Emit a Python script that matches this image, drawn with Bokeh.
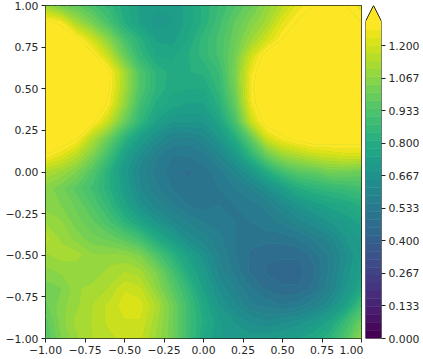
from bokeh.plotting import figure
from bokeh.layouts import row
from bokeh.embed import file_html
from bokeh.resources import INLINE
from bokeh.models import FixedTicker, LinearAxis
from bokeh.palettes import Viridis256, linear_palette
import numpy as np

x_values = [-1.0,-0.9,-0.8,-0.7,-0.6,-0.5,-0.4,-0.3,-0.2,-0.1,0.0,0.1,0.2,0.3,0.4,0.5,0.6,0.7,0.8,0.9,1.0]
y_values = [1.0,0.9,0.8,0.7,0.6,0.5,0.4,0.3,0.2,0.1,0.0,-0.1,-0.2,-0.3,-0.4,-0.5,-0.6,-0.7,-0.8,-0.9,-1.0]
z_rows = [
[1.10,1.02,0.98,0.92,0.86,0.79,0.74,0.72,0.72,0.76,0.82,0.88,0.94,1.00,1.08,1.16,1.25,1.30,1.32,1.30,1.25],
[1.32,1.28,1.12,1.02,0.92,0.81,0.74,0.70,0.71,0.76,0.82,0.90,0.98,1.05,1.12,1.24,1.31,1.37,1.38,1.36,1.30],
[1.40,1.38,1.32,1.20,1.06,0.92,0.82,0.74,0.73,0.78,0.86,0.92,1.00,1.10,1.20,1.30,1.38,1.42,1.42,1.40,1.36],
[1.40,1.40,1.38,1.32,1.18,1.00,0.86,0.78,0.77,0.81,0.86,0.92,1.02,1.20,1.34,1.40,1.42,1.42,1.42,1.42,1.40],
[1.42,1.42,1.42,1.40,1.32,1.12,0.94,0.84,0.80,0.81,0.82,0.88,1.04,1.26,1.38,1.42,1.42,1.42,1.42,1.42,1.42],
[1.42,1.42,1.42,1.40,1.31,1.12,0.94,0.84,0.79,0.78,0.78,0.86,1.02,1.28,1.40,1.42,1.42,1.42,1.42,1.42,1.42],
[1.42,1.42,1.42,1.38,1.28,1.08,0.90,0.80,0.76,0.74,0.74,0.82,0.98,1.26,1.38,1.42,1.42,1.42,1.42,1.42,1.42],
[1.42,1.40,1.38,1.31,1.18,1.00,0.85,0.74,0.68,0.68,0.68,0.76,0.92,1.18,1.34,1.40,1.42,1.42,1.42,1.42,1.40],
[1.38,1.36,1.30,1.14,1.00,0.84,0.72,0.64,0.58,0.57,0.60,0.68,0.80,0.98,1.20,1.28,1.33,1.36,1.35,1.34,1.34],
[1.30,1.24,1.16,1.04,0.90,0.74,0.64,0.56,0.52,0.52,0.54,0.60,0.70,0.84,1.00,1.10,1.14,1.18,1.20,1.22,1.22],
[1.14,1.10,1.04,0.94,0.82,0.70,0.60,0.54,0.50,0.48,0.50,0.54,0.60,0.68,0.80,0.90,0.96,0.98,1.02,1.02,1.00],
[1.06,1.02,0.96,0.90,0.82,0.72,0.62,0.56,0.52,0.50,0.50,0.52,0.55,0.58,0.64,0.72,0.80,0.84,0.86,0.88,0.90],
[1.06,1.04,1.00,0.94,0.86,0.76,0.66,0.60,0.56,0.52,0.50,0.52,0.52,0.54,0.56,0.62,0.68,0.72,0.76,0.78,0.82],
[1.10,1.08,1.02,0.98,0.92,0.84,0.76,0.68,0.62,0.58,0.55,0.54,0.52,0.52,0.54,0.56,0.60,0.64,0.68,0.72,0.76],
[1.16,1.10,1.06,1.02,1.00,0.96,0.90,0.80,0.72,0.64,0.60,0.56,0.52,0.50,0.50,0.50,0.52,0.56,0.60,0.68,0.72],
[1.10,1.12,1.12,1.08,1.08,1.08,1.04,0.94,0.84,0.74,0.66,0.58,0.52,0.48,0.46,0.46,0.46,0.50,0.56,0.64,0.72],
[1.06,1.08,1.08,1.08,1.12,1.14,1.12,1.04,0.92,0.80,0.70,0.60,0.54,0.48,0.45,0.44,0.44,0.48,0.56,0.66,0.74],
[1.02,1.04,1.10,1.12,1.14,1.20,1.18,1.08,0.97,0.86,0.74,0.64,0.58,0.52,0.48,0.46,0.46,0.50,0.58,0.68,0.78],
[1.00,1.06,1.10,1.14,1.18,1.22,1.22,1.14,1.02,0.90,0.78,0.68,0.62,0.56,0.54,0.52,0.54,0.58,0.64,0.74,0.90],
[0.96,1.06,1.12,1.14,1.18,1.20,1.20,1.12,1.02,0.90,0.80,0.72,0.68,0.64,0.62,0.64,0.66,0.70,0.76,0.88,1.00],
[0.94,1.04,1.10,1.14,1.16,1.18,1.18,1.10,1.02,0.90,0.78,0.72,0.70,0.70,0.70,0.72,0.74,0.78,0.84,0.94,1.08],
]
xy_ticks = [-1.0,-0.75,-0.5,-0.25,0.0,0.25,0.5,0.75,1.0]
xy_labels = ["\u22121.00","\u22120.75","\u22120.50","\u22120.25","0.00","0.25","0.50","0.75","1.00"]
cb_ticks = [0.0,0.1333,0.2667,0.4,0.5333,0.6667,0.8,0.9333,1.0667,1.2]
cb_labels = ["0.000","0.133","0.267","0.400","0.533","0.667","0.800","0.933","1.067","1.200"]
level_count = 40
level_top = 1.3
extend_top = 1.365

levels = [level_top * i / level_count for i in range(level_count + 1)]
palette = list(linear_palette(Viridis256, level_count))
yellow = palette[-1]
FONT = "DejaVu Sans"

def style_axis(ax, ticks, labels):
    ax.ticker = FixedTicker(ticks=ticks)
    ax.major_label_overrides = dict(zip(ticks, labels))
    ax.major_label_text_font = FONT
    ax.major_label_text_font_size = "10.8px"
    ax.major_label_text_color = "#262626"
    ax.major_label_standoff = 3
    ax.major_tick_in = 0
    ax.major_tick_out = 4
    ax.major_tick_line_color = "#222222"
    ax.major_tick_line_width = 1
    ax.minor_tick_line_color = None
    ax.axis_line_color = None

p = figure(width=363, height=357, x_range=(-1, 1), y_range=(-1, 1),
           output_backend="svg", toolbar_location=None,
           min_border_left=45, min_border_right=2, min_border_top=5, min_border_bottom=19,
           outline_line_color="#222222", outline_line_width=1, background_fill_color="#35b779")
p.grid.visible = False
style_axis(p.xaxis[0], xy_ticks, xy_labels)
style_axis(p.yaxis[0], xy_ticks, xy_labels)

z = np.array(z_rows)[::-1]
xs, ys = np.meshgrid(x_values, y_values[::-1])
all_levels = levels + [9.0]
p.contour(xs, ys, z, levels=all_levels, fill_color=palette + [yellow],
          line_color=palette + [yellow, yellow], line_width=0.6)

cb = figure(width=60, height=357, x_range=(0, 1), y_range=(0, extend_top),
            output_backend="svg", toolbar_location=None,
            min_border_left=2, min_border_right=42, min_border_top=5, min_border_bottom=19,
            outline_line_color=None)
cb.grid.visible = False
cb.xaxis.visible = False
cb.yaxis.visible = False
right = LinearAxis()
cb.add_layout(right, "right")
style_axis(right, cb_ticks, cb_labels)
cb.quad(left=0, right=1, bottom=levels[:-1], top=levels[1:], fill_color=palette, line_color=palette, line_width=0.5)
cb.patch([0, 0.5, 1], [level_top, extend_top, level_top], fill_color=yellow, line_color=yellow, line_width=0.5)
cb.line([0, 0, 0.5, 1, 1, 0], [0, level_top, extend_top, level_top, 0, 0], line_color="#222222", line_width=1)

layout = row(p, cb, spacing=0)
open("out.html", "w").write(file_html(layout, INLINE))
